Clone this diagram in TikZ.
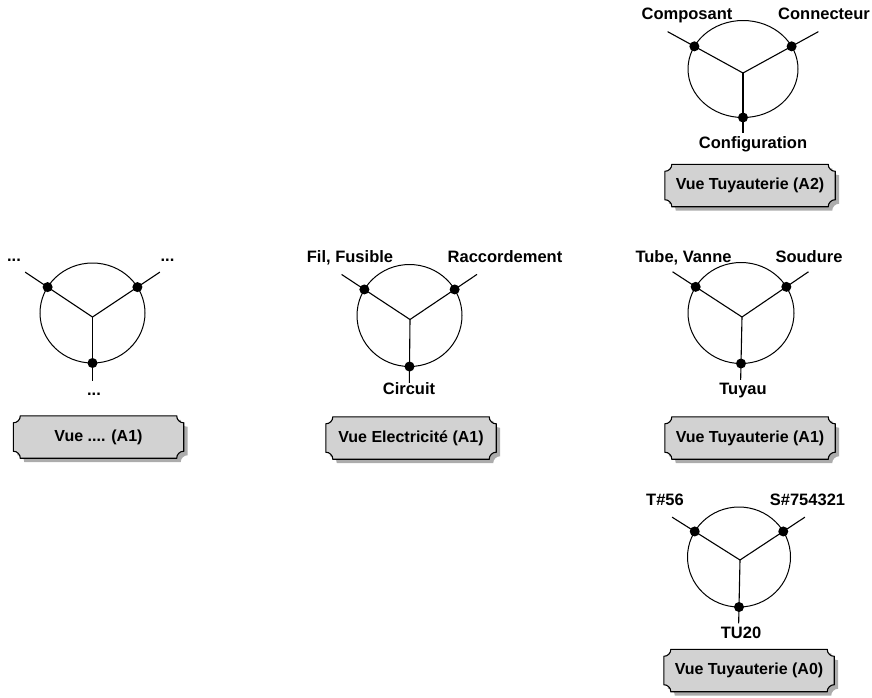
\documentclass[tikz,border=0pt]{standalone}
\usepackage{fontspec}
\setmainfont{Liberation Sans}
\usetikzlibrary{shapes.geometric,shadows,calc,backgrounds}

\tikzset{
    vue/.style={ellipse, draw, fill=white, line width=1pt, inner sep=0pt, outer sep=0pt},
    joint/.style={circle, fill=black, inner sep=0pt, minimum size=10pt},
    wire/.style={line width=1.1pt},
    lbl/.style={anchor=base, inner sep=0pt, font=\bfseries\fontsize{16.5}{20}\selectfont},
    vuebox/.style={rectangle, minimum width=170pt, minimum height=42pt, inner sep=0pt,
        font=\bfseries\fontsize{16}{19}\selectfont},
    plaque/.style={draw, line width=1.1pt, fill=gray!35,
        drop shadow={shadow xshift=4pt, shadow yshift=-4pt, fill=gray!65, opacity=1}}
}

% plaque with notched corners behind a view node
\newcommand{\plaque}[1]{%
    \begin{pgfonlayer}{background}
    \draw[plaque] ([xshift=7pt]#1.north west) -- ([xshift=-7pt]#1.north east)
        arc[start angle=180, end angle=270, radius=7pt]
        -- ([yshift=7pt]#1.south east)
        arc[start angle=90, end angle=180, radius=7pt]
        -- ([xshift=7pt]#1.south west)
        arc[start angle=0, end angle=90, radius=7pt]
        -- ([yshift=-7pt]#1.north west)
        arc[start angle=270, end angle=360, radius=7pt] -- cycle;
    \end{pgfonlayer}}

\begin{document}
\begin{tikzpicture}[x=1pt, y=-1pt]
    \useasboundingbox (0,0) rectangle (872,697);

    % Vue Tuyauterie (A2)
    \begin{scope}[shift={(743,69)}]
        \node[vue, minimum width=110pt, minimum height=97pt] (a2) at (0,0) {};
        \coordinate (a2j) at (0,4);
        \node[joint] (a2l) at (a2.155) {};
        \node[joint] (a2r) at (a2.25) {};
        \node[joint] (a2b) at (a2.south) {};
        \coordinate (a2lo) at ($(a2j)!1.55!(a2l.center)$);
        \coordinate (a2ro) at ($(a2j)!1.55!(a2r.center)$);
        \coordinate (a2bo) at ($(a2j)!1.35!(a2b.center)$);
        \draw[wire] (a2j) -- (a2l.center) -- (a2lo);
        \draw[wire] (a2j) -- (a2r.center) -- (a2ro);
        \draw[wire] (a2j) -- (a2b.center) -- (a2bo);

        \node[lbl] (a2lt) at (-56,-50) {Composant};
        \node[lbl] (a2rt) at (81,-50) {Connecteur};
        \node[lbl] (a2bt) at (10,79) {Configuration};

        \node[vuebox] (a2v) at (7,116.5) {Vue Tuyauterie (A2)};
        \plaque{a2v}
    \end{scope}

    % Vue .... (A1)
    \begin{scope}[shift={(92.5,313)}]
        \node[vue, minimum width=105pt, minimum height=100pt] (x1) at (0,0) {};
        \coordinate (x1j) at (0,4);
        \node[joint] (x1l) at (x1.150) {};
        \node[joint] (x1r) at (x1.30) {};
        \node[joint] (x1b) at (x1.south) {};
        \coordinate (x1lo) at ($(x1j)!1.5!(x1l.center)$);
        \coordinate (x1ro) at ($(x1j)!1.5!(x1r.center)$);
        \coordinate (x1bo) at ($(x1j)!1.4!(x1b.center)$);
        \draw[wire] (x1j) -- (x1l.center) -- (x1lo);
        \draw[wire] (x1j) -- (x1r.center) -- (x1ro);
        \draw[wire] (x1j) -- (x1b.center) -- (x1bo);

        \node[lbl] (x1lt) at (-78.5,-52) {...};
        \node[lbl] (x1rt) at (75,-52) {...};
        \node[lbl] (x1bt) at (1.5,82) {...};

        \node[vuebox] (x1v) at (6,124) {Vue .... (A1)};
        \plaque{x1v}
    \end{scope}

    % Vue Electricite (A1)
    \begin{scope}[shift={(409.5,315.5)}]
        \node[vue, minimum width=105pt, minimum height=102pt] (e1) at (0,0) {};
        \coordinate (e1j) at (0.5,4);
        \node[joint] (e1l) at (e1.150) {};
        \node[joint] (e1r) at (e1.30) {};
        \node[joint] (e1b) at (e1.south) {};
        \coordinate (e1lo) at ($(e1j)!1.5!(e1l.center)$);
        \coordinate (e1ro) at ($(e1j)!1.5!(e1r.center)$);
        \coordinate (e1bo) at ($(e1j)!1.35!(e1b.center)$);
        \draw[wire] (e1j) -- (e1l.center) -- (e1lo);
        \draw[wire] (e1j) -- (e1r.center) -- (e1ro);
        \draw[wire] (e1j) -- (e1b.center) -- (e1bo);

        \node[lbl] (e1lt) at (-59.5,-53.5) {Fil, Fusible};
        \node[lbl] (e1rt) at (95.5,-53.5) {Raccordement};
        \node[lbl] (e1bt) at (-0.5,78.5) {Circuit};

        \node[vuebox] (e1v) at (1.5,122.5) {Vue Electricité (A1)};
        \plaque{e1v}
    \end{scope}

    % Vue Tuyauterie (A1)
    \begin{scope}[shift={(741,313)}]
        \node[vue, minimum width=106pt, minimum height=101pt] (a1) at (0,0) {};
        \coordinate (a1j) at (1,4);
        \node[joint] (a1l) at (a1.150) {};
        \node[joint] (a1r) at (a1.30) {};
        \node[joint] (a1b) at (a1.south) {};
        \coordinate (a1lo) at ($(a1j)!1.5!(a1l.center)$);
        \coordinate (a1ro) at ($(a1j)!1.5!(a1r.center)$);
        \coordinate (a1bo) at ($(a1j)!1.35!(a1b.center)$);
        \draw[wire] (a1j) -- (a1l.center) -- (a1lo);
        \draw[wire] (a1j) -- (a1r.center) -- (a1ro);
        \draw[wire] (a1j) -- (a1b.center) -- (a1bo);

        \node[lbl] (a1lt) at (-57.5,-51) {Tube, Vanne};
        \node[lbl] (a1rt) at (68,-51) {Soudure};
        \node[lbl] (a1bt) at (2,81) {Tuyau};

        \node[vuebox] (a1v) at (9,125) {Vue Tuyauterie (A1)};
        \plaque{a1v}
    \end{scope}

    % Vue Tuyauterie (A0)
    \begin{scope}[shift={(739,557)}]
        \node[vue, minimum width=103pt, minimum height=100pt] (a0) at (0,0) {};
        \coordinate (a0j) at (1,3);
        \node[joint] (a0l) at (a0.150) {};
        \node[joint] (a0r) at (a0.30) {};
        \node[joint] (a0b) at (a0.south) {};
        \coordinate (a0lo) at ($(a0j)!1.5!(a0l.center)$);
        \coordinate (a0ro) at ($(a0j)!1.5!(a0r.center)$);
        \coordinate (a0bo) at ($(a0j)!1.35!(a0b.center)$);
        \draw[wire] (a0j) -- (a0l.center) -- (a0lo);
        \draw[wire] (a0j) -- (a0r.center) -- (a0ro);
        \draw[wire] (a0j) -- (a0b.center) -- (a0bo);

        \node[lbl] (a0lt) at (-74,-52) {T\#56};
        \node[lbl] (a0rt) at (68.5,-52) {S\#754321};
        \node[lbl] (a0bt) at (2,81) {TU20};

        \node[vuebox] (a0v) at (10,113.5) {Vue Tuyauterie (A0)};
        \plaque{a0v}
    \end{scope}
\end{tikzpicture}
\end{document}
